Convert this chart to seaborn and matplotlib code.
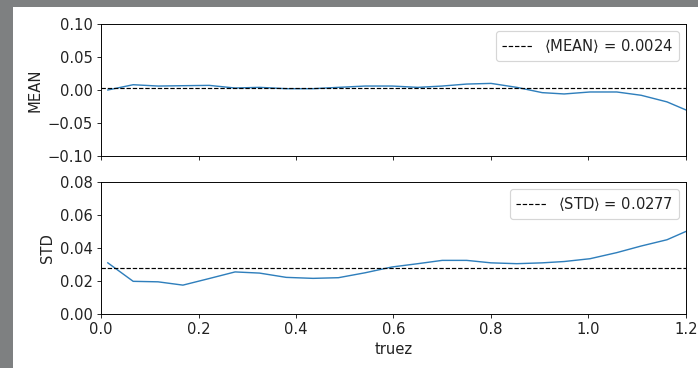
import matplotlib
matplotlib.use("Agg")
import matplotlib.pyplot as plt
import seaborn as sns
import pandas as pd
from matplotlib.patches import Rectangle

# ---- data ----
truez = [0.014, 0.066, 0.117, 0.168, 0.222, 0.275, 0.325, 0.380, 0.435, 0.487,
         0.542, 0.597, 0.650, 0.700, 0.750, 0.800, 0.853, 0.905, 0.950, 1.003,
         1.058, 1.108, 1.161, 1.215]
mean_vals = [0.000, 0.008, 0.006, 0.0065, 0.007, 0.003, 0.004, 0.002, 0.002, 0.004,
             0.006, 0.006, 0.004, 0.006, 0.009, 0.010, 0.004, -0.004, -0.006, -0.003,
             -0.003, -0.008, -0.018, -0.035]
std_vals = [0.031, 0.0198, 0.0195, 0.0175, 0.0215, 0.0255, 0.0248, 0.0222, 0.0216, 0.0220,
            0.0250, 0.0285, 0.0305, 0.0325, 0.0325, 0.0310, 0.0305, 0.0310, 0.0318, 0.0335,
            0.0372, 0.0412, 0.0450, 0.0520]
mean_avg = 0.0024
std_avg = 0.0277
mean_label = r"$\langle$MEAN$\rangle$ = 0.0024"
std_label = r"$\langle$STD$\rangle$ = 0.0277"
mean_ticks = [-0.10, -0.05, 0.00, 0.05, 0.10]
std_ticks = [0.00, 0.02, 0.04, 0.06, 0.08]
x_ticks = [0.0, 0.2, 0.4, 0.6, 0.8, 1.0, 1.2]

df = pd.DataFrame({"truez": truez, "MEAN": mean_vals, "STD": std_vals})

plt.rcParams["font.size"] = 12.5
plt.rcParams["text.color"] = "#222222"
plt.rcParams["xtick.color"] = "#222222"
plt.rcParams["ytick.color"] = "#222222"
plt.rcParams["axes.labelcolor"] = "#222222"

DPI = 85
fig = plt.figure(figsize=(699 / DPI, 368 / DPI), dpi=DPI)
fig.patch.set_facecolor("#7e8081")
bg = Rectangle((13 / 699, 0), 1, (368 - 7) / 368, transform=fig.transFigure,
               facecolor="white", edgecolor="none", zorder=-10)
fig.patches.append(bg)

left = 101 / 699
width = 585 / 699
h = 132 / 368
ax1 = fig.add_axes([left, (368 - 156) / 368, width, h])
ax2 = fig.add_axes([left, (368 - 314) / 368, width, h], sharex=ax1)
ax1.set_zorder(5)
ax2.set_zorder(5)

line_color = "#2f7fbc"
sns.lineplot(data=df, x="truez", y="MEAN", ax=ax1, color=line_color, linewidth=1.2)
ax1.axhline(mean_avg, color="k", linestyle="--", linewidth=1.0, label=mean_label)
ax1.set_ylim(-0.1, 0.1)
ax1.set_yticks(mean_ticks)
ax1.set_ylabel("MEAN")
ax1.set_xlabel("")
ax1.tick_params(labelbottom=False)
ax1.legend(loc="upper right", handlelength=2.0)

sns.lineplot(data=df, x="truez", y="STD", ax=ax2, color=line_color, linewidth=1.2)
ax2.axhline(std_avg, color="k", linestyle="--", linewidth=1.0, label=std_label)
ax2.set_ylim(0, 0.08)
ax2.set_yticks(std_ticks)
ax2.set_ylabel("STD")
ax2.set_xlabel("truez")
ax2.set_xlim(0, 1.2)
ax2.set_xticks(x_ticks)
ax2.legend(loc="upper right", handlelength=2.0)

fig.savefig("out.png", dpi=DPI, facecolor=fig.get_facecolor())
